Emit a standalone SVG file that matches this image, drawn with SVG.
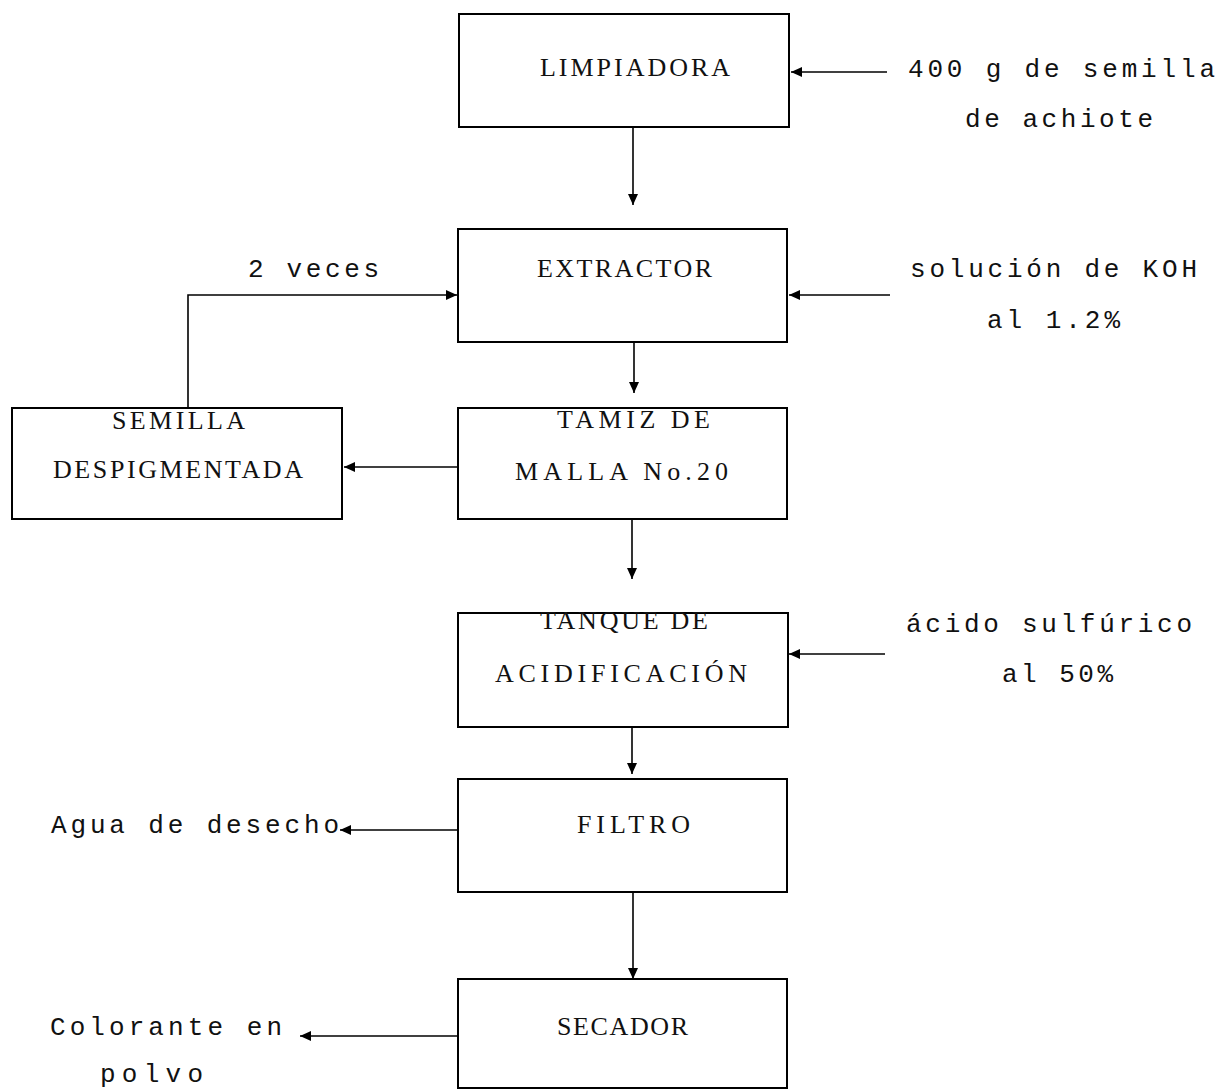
<svg xmlns="http://www.w3.org/2000/svg" width="1219" height="1091" viewBox="0 0 1219 1091">
  <style>
    .box { fill: #ffffff; stroke: #000000; stroke-width: 2; }
    .t { font-family: "Liberation Serif", "Times New Roman", serif; font-size: 26px; fill: #111111; }
    .m { font-family: "Liberation Mono", "Courier New", monospace; font-size: 26px; fill: #111111; }
    .c { fill: none; stroke: #000000; stroke-width: 1.6; }
  </style>
  <defs>
    <marker id="ah" markerUnits="userSpaceOnUse" markerWidth="12" markerHeight="10" refX="11" refY="5" orient="auto">
      <path d="M0,0 L11,5 L0,10 Z" fill="#000000"/>
    </marker>
  </defs>
  <rect width="1219" height="1091" fill="#ffffff"/>

  <g id="connectors">
    <path class="c" d="M887,72 L791,72" marker-end="url(#ah)"/>
    <path class="c" d="M633,127 L633,205" marker-end="url(#ah)"/>
    <path class="c" d="M188,408 L188,295 L457,295" marker-end="url(#ah)"/>
    <path class="c" d="M890,295 L789,295" marker-end="url(#ah)"/>
    <path class="c" d="M634,342 L634,393" marker-end="url(#ah)"/>
    <path class="c" d="M458,467 L344,467" marker-end="url(#ah)"/>
    <path class="c" d="M632,519 L632,579" marker-end="url(#ah)"/>
    <path class="c" d="M885,654 L789,654" marker-end="url(#ah)"/>
    <path class="c" d="M632,710 L632,774" marker-end="url(#ah)"/>
    <path class="c" d="M458,830 L340,830" marker-end="url(#ah)"/>
    <path class="c" d="M633,892 L633,979" marker-end="url(#ah)"/>
    <path class="c" d="M458,1036 L300,1036" marker-end="url(#ah)"/>
  </g>

  <g id="limpiadora">
    <rect class="box" x="459" y="14" width="330" height="113"/>
    <text class="t" x="540" y="76" textLength="190" lengthAdjust="spacing">LIMPIADORA</text>
  </g>
  <g id="entrada-semilla">
    <text class="m" x="908" y="77" textLength="307" lengthAdjust="spacing">400 g de semilla</text>
    <text class="m" x="965" y="127" textLength="188" lengthAdjust="spacing">de achiote</text>
  </g>
  <g id="extractor">
    <rect class="box" x="458" y="229" width="329" height="113"/>
    <text class="t" x="537" y="277" textLength="175" lengthAdjust="spacing">EXTRACTOR</text>
  </g>
  <g id="label-2veces">
    <text class="m" x="248" y="277" textLength="131" lengthAdjust="spacing">2 veces</text>
  </g>
  <g id="entrada-koh">
    <text class="m" x="910" y="277" textLength="287" lengthAdjust="spacing">solución de KOH</text>
    <text class="m" x="987" y="328" textLength="133" lengthAdjust="spacing">al 1.2%</text>
  </g>
  <g id="semilla">
    <rect class="box" x="12" y="408" width="330" height="111"/>
    <text class="t" x="112" y="429" textLength="133" lengthAdjust="spacing">SEMILLA</text>
    <text class="t" x="53" y="478" textLength="250" lengthAdjust="spacing">DESPIGMENTADA</text>
  </g>
  <g id="tamiz">
    <rect class="box" x="458" y="408" width="329" height="111"/>
    <text class="t" x="557" y="428" textLength="153" lengthAdjust="spacing">TAMIZ DE</text>
    <text class="t" x="515" y="480" textLength="213" lengthAdjust="spacing">MALLA No.20</text>
  </g>
  <g id="tanque">
    <rect class="box" x="458" y="613" width="330" height="114"/>
    <text class="t" x="540" y="629" textLength="168" lengthAdjust="spacing">TANQUE DE</text>
    <text class="t" x="495" y="682" textLength="252" lengthAdjust="spacing">ACIDIFICACIÓN</text>
  </g>
  <g id="entrada-acido">
    <text class="m" x="906" y="632" textLength="286" lengthAdjust="spacing">ácido sulfúrico</text>
    <text class="m" x="1002" y="682" textLength="111" lengthAdjust="spacing">al 50%</text>
  </g>
  <g id="filtro">
    <rect class="box" x="458" y="779" width="329" height="113"/>
    <text class="t" x="577" y="833" textLength="113" lengthAdjust="spacing">FILTRO</text>
  </g>
  <g id="salida-agua">
    <text class="m" x="51" y="833" textLength="288" lengthAdjust="spacing">Agua de desecho</text>
  </g>
  <g id="secador">
    <rect class="box" x="458" y="979" width="329" height="109"/>
    <text class="t" x="557" y="1035" textLength="131" lengthAdjust="spacing">SECADOR</text>
  </g>
  <g id="salida-colorante">
    <text class="m" x="50" y="1035" textLength="232" lengthAdjust="spacing">Colorante en</text>
    <text class="m" x="100" y="1082" textLength="103" lengthAdjust="spacing">polvo</text>
  </g>
</svg>
